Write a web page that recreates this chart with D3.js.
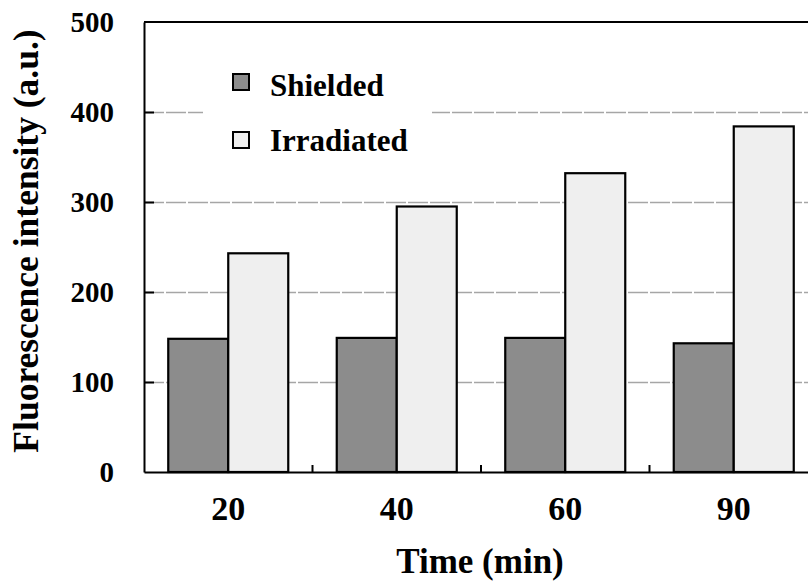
<!DOCTYPE html>
<html>
<head>
<meta charset="utf-8">
<script src="https://cdn.jsdelivr.net/npm/d3@7"></script>
<style>
  html, body { margin: 0; padding: 0; background: #fff; }
  svg { display: block; }
  text { font-family: "Liberation Serif", "Times New Roman", serif; font-weight: bold; fill: #000; }
</style>
</head>
<body>
<svg id="chart" width="808" height="581"></svg>
<script>
const categories = ["20", "40", "60", "90"];
const seriesNames = ["Shielded", "Irradiated"];
const shielded = [148, 149, 149, 143];
const irradiated = [243, 295, 332, 384];
const yTicks = [0, 100, 200, 300, 400, 500];
const colors = { Shielded: "#8c8c8c", Irradiated: "#efefef" };

const svg = d3.select("#chart");
const mLeft = 144, mRight = 818, mTop = 22, mBottom = 472;

const x = d3.scaleBand().domain(categories).range([mLeft, mRight]).padding(0);
const bw = x.bandwidth();
const x1 = d3.scaleBand().domain(seriesNames).range([bw / 2 - 60, bw / 2 + 60]).padding(0);
const y = d3.scaleLinear().domain([0, 500]).range([mBottom, mTop]);

// gridlines
const grid = svg.append("g").attr("transform", `translate(${mLeft},0)`)
  .call(d3.axisLeft(y).tickValues([100, 200, 300, 400]).tickSize(-(mRight - mLeft)).tickFormat(""));
grid.select(".domain").remove();
grid.selectAll("line").attr("stroke", "#a6a6a6").attr("stroke-width", 1.5).attr("stroke-dasharray", "20,2");

// legend background (covers gridline)
svg.append("rect").attr("x", 203).attr("y", 58).attr("width", 229).attr("height", 104).attr("fill", "#fff");

// bars
const rows = categories.map((c, i) => ({ cat: c, values: [
  { key: "Shielded", v: shielded[i] }, { key: "Irradiated", v: irradiated[i] } ] }));
const groups = svg.append("g").selectAll("g").data(rows).join("g")
  .attr("transform", d => `translate(${x(d.cat)},0)`);
groups.selectAll("rect").data(d => d.values).join("rect")
  .attr("x", d => x1(d.key))
  .attr("width", x1.bandwidth())
  .attr("y", d => y(d.v))
  .attr("height", d => y(0) - y(d.v))
  .attr("fill", d => colors[d.key])
  .attr("stroke", "#000")
  .attr("stroke-width", 2.2);

// frame top
svg.append("line").attr("x1", mLeft).attr("x2", mRight).attr("y1", mTop).attr("y2", mTop)
  .attr("stroke", "#000").attr("stroke-width", 2);

// y axis
const yAxis = svg.append("g").attr("transform", `translate(${mLeft},0)`)
  .call(d3.axisLeft(y).tickValues(yTicks).tickSize(0).tickPadding(30).tickFormat(d3.format("d")));
yAxis.select(".domain").attr("stroke", "#000").attr("stroke-width", 2);
yAxis.selectAll("text").attr("font-size", 29).attr("font-family", "Liberation Serif").attr("font-weight", "bold");
// inner ticks
svg.append("g").attr("transform", `translate(${mLeft},0)`)
  .call(d3.axisRight(y).tickValues([100, 200, 300, 400]).tickSize(10).tickFormat(""))
  .call(g => g.select(".domain").remove())
  .selectAll("line").attr("stroke", "#000").attr("stroke-width", 2);

// x axis
const xAxis = svg.append("g").attr("transform", `translate(0,${mBottom})`)
  .call(d3.axisBottom(x).tickSize(0).tickPadding(24));
xAxis.select(".domain").attr("stroke", "#000").attr("stroke-width", 2);
xAxis.selectAll("text").attr("font-size", 34).attr("font-family", "Liberation Serif").attr("font-weight", "bold");
// boundary ticks pointing up
svg.append("g").selectAll("line").data(categories.slice(0, -1)).join("line")
  .attr("x1", d => x(d) + bw).attr("x2", d => x(d) + bw)
  .attr("y1", mBottom).attr("y2", mBottom - 7)
  .attr("stroke", "#000").attr("stroke-width", 2);

// legend
const lg = svg.append("g");
seriesNames.forEach((s, i) => {
  lg.append("rect").attr("x", 233).attr("y", 74 + i * 58).attr("width", 16).attr("height", 16)
    .attr("fill", colors[s]).attr("stroke", "#000").attr("stroke-width", 2);
  lg.append("text").attr("x", 270).attr("y", 96 + i * 55).attr("font-size", 31).text(s);
});

// axis titles
svg.append("text").attr("transform", "translate(38,241) rotate(-90)")
  .attr("text-anchor", "middle").attr("font-size", 35.5).text("Fluorescence intensity (a.u.)");
svg.append("text").attr("x", 480).attr("y", 573).attr("text-anchor", "middle")
  .attr("font-size", 35).text("Time (min)");
</script>
</body>
</html>
